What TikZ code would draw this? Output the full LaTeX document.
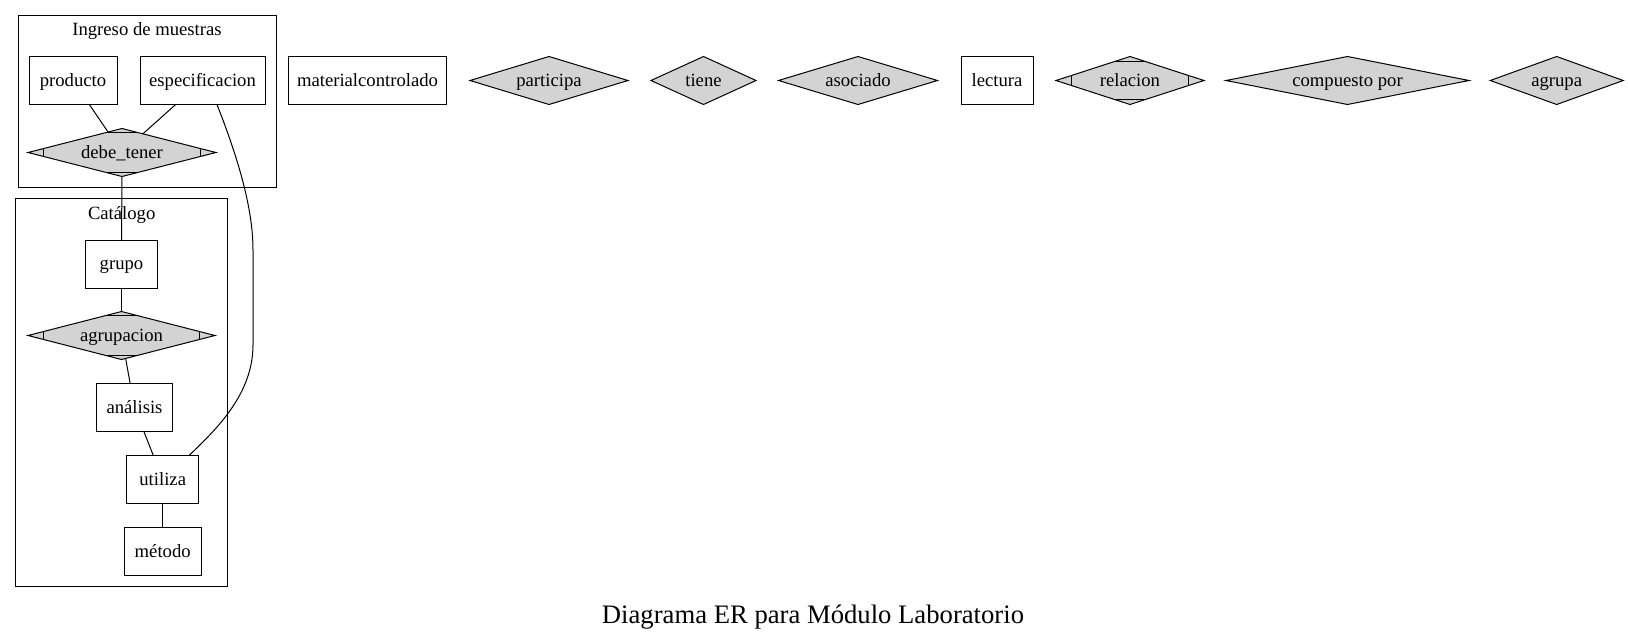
\documentclass[tikz,border=0pt]{standalone}
\usepackage{fontspec}
\setmainfont{Liberation Serif}
\usetikzlibrary{shapes.geometric,calc}
\definecolor{relfill}{HTML}{D3D3D3}
\tikzset{
 txt/.style={font=\fontsize{14}{16}\selectfont},
 ctxt/.style={txt, text height=11.5pt, text depth=3pt},
 ent/.style={ctxt, draw, rectangle, line width=0.75pt, inner sep=0pt, outer sep=0pt, minimum height=36pt},
 rel/.style={draw, diamond, fill=relfill, line width=0.75pt, inner sep=0pt, outer sep=0pt, minimum height=36pt},
 rtext/.style={ctxt, inner sep=0pt},
 cluster/.style={draw, line width=0.75pt},
 link/.style={line width=0.75pt},
}
\newcommand\MdMarks[1]{%
  \draw[link] ($(#1.west)!12pt!(#1.north)$) -- ($(#1.west)!12pt!(#1.south)$);
  \draw[link] ($(#1.east)!12pt!(#1.north)$) -- ($(#1.east)!12pt!(#1.south)$);
  \draw[link] ($(#1.north)!12pt!(#1.west)$) -- ($(#1.north)!12pt!(#1.east)$);
  \draw[link] ($(#1.south)!12pt!(#1.west)$) -- ($(#1.south)!12pt!(#1.east)$);}
\begin{document}
\begin{tikzpicture}[x=0.75pt, y=-0.75pt]
\useasboundingbox (0,0) rectangle (1628,643);
% clusters
\draw[cluster] (18.5,15.5) rectangle (276,187);
\node[txt, anchor=base] (c1t) at (147,35.5) {Ingreso de muestras};
\draw[cluster] (15.7,198.3) rectangle (227,586.7);
\node[txt, anchor=base] (c2t) at (121.7,219) {Catálogo};
% cluster 1 nodes
\node[ent, minimum width=66pt] (producto) at (73,80.5) {producto};
\node[ent, minimum width=93.75pt] (espec) at (202.5,80.5) {especificacion};
\node[rel, minimum width=141pt, label={[rtext, name=debe-t]center:debe\_tener}] (debe) at (122,152.5) {};
% cluster 2 nodes
\node[ent, minimum width=54pt] (grupo) at (121.5,264) {grupo};
\node[rel, minimum width=140.25pt, label={[rtext, name=agrup-t]center:agrupacion}] (agrup) at (121.5,335.5) {};
\node[ent, minimum width=57pt] (analisis) at (134.5,407.5) {análisis};
\node[ent, minimum width=54pt] (utiliza) at (162.7,479.5) {utiliza};
\node[ent, minimum width=57.75pt] (metodo) at (162.7,551.5) {método};
% top row
\node[ent, minimum width=118.5pt] (material) at (367.5,80.5) {materialcontrolado};
\node[rel, minimum width=118.5pt, label={[rtext, name=part-t]center:participa}] (participa) at (549,80.5) {};
\node[rel, minimum width=78.75pt, label={[rtext, name=tiene-t]center:tiene}] (tiene) at (703.5,80.5) {};
\node[rel, minimum width=119.25pt, label={[rtext, name=asoc-t]center:asociado}] (asociado) at (858,80.5) {};
\node[ent, minimum width=54pt] (lectura) at (997,80.5) {lectura};
\node[rel, minimum width=111pt, label={[rtext, name=relac-t]center:relacion}] (relacion) at (1130,80.5) {};
\node[rel, minimum width=182.25pt, label={[rtext, name=comp-t]center:compuesto por}] (compuesto) at (1347.5,80.5) {};
\node[rel, minimum width=99.75pt, label={[rtext, name=agrupa-t]center:agrupa}] (agrupa) at (1556.7,80.5) {};
% Mdiamond marks
\MdMarks{debe}
\MdMarks{agrup}
\MdMarks{relacion}
% edges
\draw[link] (producto) -- (debe);
\draw[link] (espec) -- (debe);
\draw[link] (debe) -- (grupo);
\draw[link] (grupo) -- (agrup);
\draw[link] (agrup) -- (analisis);
\draw[link] (analisis) -- (utiliza);
\draw[link] (utiliza) -- (metodo);
\draw[link] ($(espec.south)+(14.5,0)$) .. controls (238,158) and (253,208) .. (253,250)
   -- (253,345) .. controls (253,393) and (218,428) .. ($(utiliza.north)+(26.3,0)$);
% title
\node[font=\fontsize{20}{24}\selectfont, anchor=base] (title) at (813,623) {Diagrama ER para Módulo Laboratorio};
\end{tikzpicture}
\end{document}
